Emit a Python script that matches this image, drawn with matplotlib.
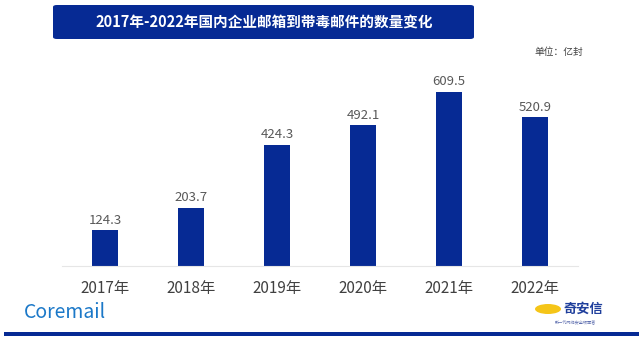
import matplotlib.pyplot as plt
import matplotlib.patches as mpatches

plt.rcParams['font.family'] = ['Noto Sans CJK SC', 'DejaVu Sans']

years = ["2017年", "2018年", "2019年", "2020年", "2021年", "2022年"]
counts = [124.3, 203.7, 424.3, 492.1, 609.5, 520.9]

navy = "#062a94"

fig = plt.figure(figsize=(6.39, 3.42), dpi=100)
ax = fig.add_axes([62 / 639, 76 / 342, 516 / 639, 200 / 342])

x = range(len(years))
bars = ax.bar(x, counts, width=0.31, color=navy)
for b, v in zip(bars, counts):
    ax.text(b.get_x() + b.get_width() / 2, v + 12, f"{v:.1f}",
            ha="center", va="bottom", fontsize=9.5, color="#595959")

ax.set_xlim(-0.5, len(years) - 0.5)
ax.set_ylim(0, 700)
ax.set_xticks(list(x))
ax.set_xticklabels(years, fontsize=11, color="#404040")
ax.tick_params(axis="x", length=0, pad=10)
ax.set_yticks([])
for s in ["top", "right", "left"]:
    ax.spines[s].set_visible(False)
ax.spines["bottom"].set_color("#e6e6e6")

# title banner
banner = mpatches.FancyBboxPatch((53 / 639, 303 / 342), 421 / 639, 34 / 342,
                                 boxstyle="round,pad=0,rounding_size=0.006",
                                 transform=fig.transFigure, facecolor=navy,
                                 edgecolor="none")
fig.patches.append(banner)
fig.text(264 / 639, 320 / 342, "2017年-2022年国内企业邮箱到带毒邮件的数量变化",
         ha="center", va="center", fontsize=10.5, fontweight="bold", color="white")
fig.text(583 / 639, 290 / 342, "单位：亿封", ha="right", va="center",
         fontsize=7, color="#404040")

# footer
fig.text(24 / 639, 30 / 342, "Coremail", ha="left", va="center",
         fontsize=14, fontweight="medium", color="#1b78c8")
fig.patches.append(mpatches.Rectangle((4 / 639, 6 / 342), 635 / 639, 4 / 342,
                                      transform=fig.transFigure,
                                      facecolor=navy, edgecolor="none"))
fig.patches.append(mpatches.Ellipse((548 / 639, 33 / 342), 26 / 639, 10 / 342,
                                    transform=fig.transFigure,
                                    facecolor="#f5c518", edgecolor="none"))
fig.text(563 / 639, 33 / 342, "奇安信", ha="left", va="center",
         fontsize=9.5, fontweight="bold", color="#1f3f9c")
fig.text(575 / 639, 20 / 342, "新一代网络安全领军者", ha="center", va="center",
         fontsize=3, color="#6070b0")

fig.savefig("out.png", dpi=100)
